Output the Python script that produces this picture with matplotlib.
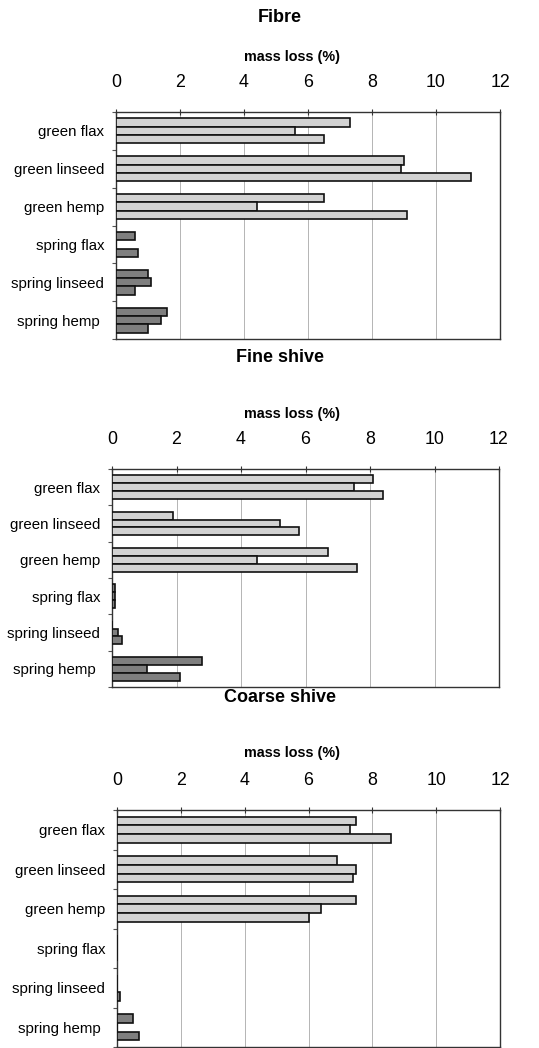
import numpy as np
import matplotlib
matplotlib.use("Agg")
import matplotlib.pyplot as plt

plt.rcParams['font.family'] = ['Liberation Sans', 'DejaVu Sans']

categories = ['green flax', 'green linseed', 'green hemp',
              'spring flax', 'spring linseed', 'spring hemp ']
xticks = [0, 2, 4, 6, 8, 10, 12]

# three replicate bars per category (0 = no bar visible)
fibre = [[7.3, 9.0, 6.5, 0.6, 1.0, 1.6],
         [5.6, 8.9, 4.4, 0.0, 1.1, 1.4],
         [6.5, 11.1, 9.1, 0.7, 0.6, 1.0]]
fine_shive = [[8.1, 1.9, 6.7, 0.1, 0.0, 2.8],
              [7.5, 5.2, 4.5, 0.1, 0.2, 1.1],
              [8.4, 5.8, 7.6, 0.1, 0.3, 2.1]]
coarse_shive = [[7.5, 6.9, 7.5, 0.0, 0.0, 0.5],
                [7.3, 7.5, 6.4, 0.0, 0.0, 0.0],
                [8.6, 7.4, 6.0, 0.0, 0.1, 0.7]]

panels = [('Fibre', fibre), ('Fine shive', fine_shive), ('Coarse shive', coarse_shive)]

W, H = 539, 1048
# axes boxes in pixels: left, top, right, bottom
boxes = [(116, 112, 500, 339), (112, 469, 499, 687), (117, 810, 500, 1047)]
title_y = [17, 358, 698]
label_y = [57, 414, 753]

light = '#d2d2d2'
dark = '#7f7f7f'

fig = plt.figure(figsize=(W / 100, H / 100), dpi=100)

for (name, data), (l, t, r, b), ty, ly in zip(panels, boxes, title_y, label_y):
    ax = fig.add_axes([l / W, 1 - b / H, (r - l) / W, (b - t) / H])
    pos = np.arange(len(categories))
    colors = [light] * 3 + [dark] * 3
    h = 0.22
    for k, vals in enumerate(data):
        ax.barh(pos + (k - 1) * h, vals, height=h, color=colors,
                edgecolor='#111111', linewidth=1.2, zorder=3)
    ax.set_xlim(0, 12)
    ax.set_ylim(len(categories) - 0.5, -0.5)
    ax.xaxis.tick_top()
    ax.set_xticks(xticks)
    ax.set_xticklabels([str(v) for v in xticks])
    ax.tick_params(axis='x', direction='inout', length=4, width=0.8,
                   colors='#333333', labelcolor='black', labelsize=12.8, pad=13)
    ax.set_yticks(pos)
    ax.set_yticklabels(categories)
    ax.set_yticks(np.arange(len(categories) + 1) - 0.5, minor=True)
    ax.tick_params(axis='y', which='major', length=0, labelsize=10.8, pad=8.5)
    ax.tick_params(axis='y', which='minor', length=3, width=0.8, color='#555555')
    ax.grid(axis='x', color='#b4b4b4', linewidth=0.7, zorder=0)
    for s in ax.spines.values():
        s.set_color('#333333')
        s.set_linewidth(1.0)
    fig.text(280 / W, 1 - ty / H, name, ha='center', va='center',
             fontsize=13, fontweight='bold')
    fig.text(292 / W, 1 - ly / H, 'mass loss (%)', ha='center', va='center',
             fontsize=10.4, fontweight='bold')

fig.savefig('out.png', dpi=100)
